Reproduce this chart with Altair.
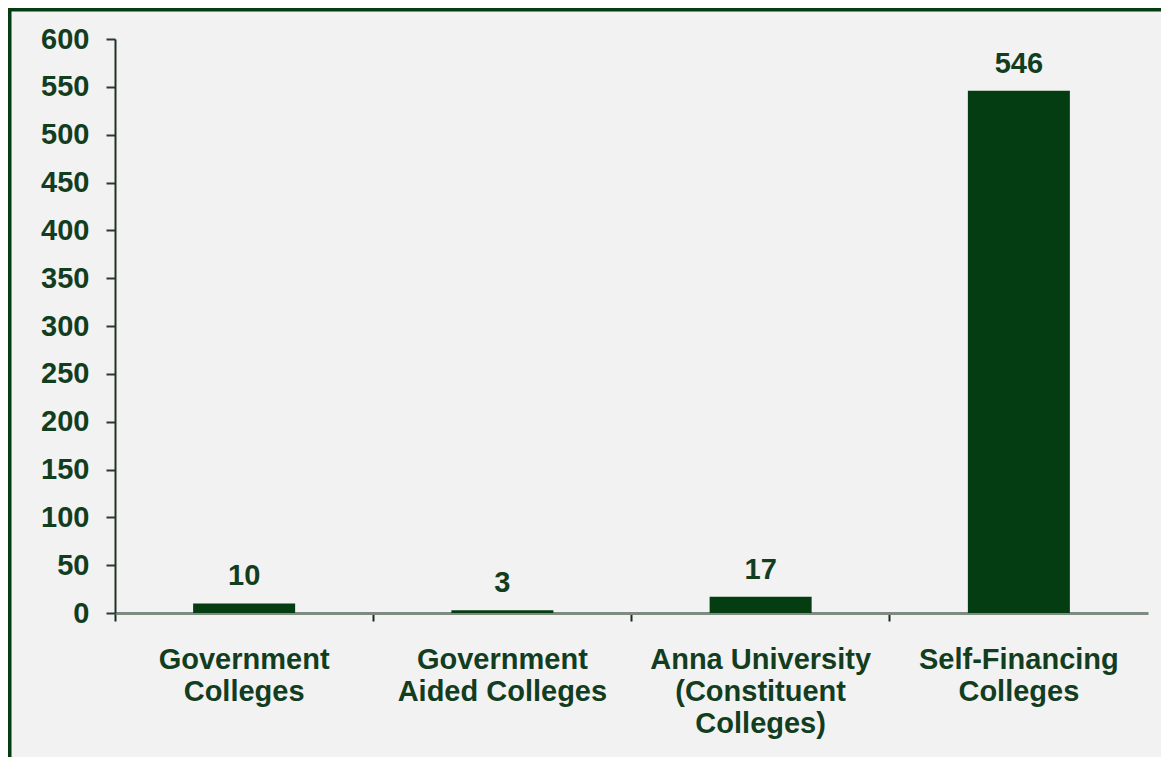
import altair as alt
import pandas as pd

categories = ["Government|Colleges", "Government|Aided Colleges",
              "Anna University|(Constituent|Colleges)", "Self-Financing|Colleges"]
values = [10, 3, 17, 546]

df = pd.DataFrame({"category": categories, "value": values})
frame_df = pd.DataFrame({"k": [0]})

GREEN = "#043d12"
TEXT = "#123d1f"
FONT = "Liberation Sans"
FS = 29
W, H = 1033, 574

x = alt.X("category:N", sort=categories, title=None,
          scale=alt.Scale(paddingInner=0, paddingOuter=0),
          axis=alt.Axis(labelAngle=0, labelExpr="split(datum.label, '|')",
                        labelLineHeight=32, labelFontSize=FS, labelFont=FONT,
                        labelFontWeight="bold", labelColor=TEXT, labelPadding=24,
                        labelLimit=0,
                        bandPosition=0, tickSize=8, tickColor="#1a2a1e", tickWidth=2,
                        domainColor="#7f8a80", domainWidth=3, grid=False))
y = alt.Y("value:Q", title=None,
          scale=alt.Scale(domain=[0, 600], nice=False),
          axis=alt.Axis(values=list(range(0, 601, 50)), labelFontSize=FS, labelFont=FONT,
                        labelFontWeight="bold", labelColor=TEXT, labelPadding=17,
                        tickSize=9, tickColor="#2a3a2e", tickWidth=2,
                        domainColor="#1f3323", domainWidth=2, grid=False))

bars = alt.Chart(df).mark_bar(color=GREEN, width=alt.RelativeBandSize(0.395)).encode(x=x, y=y)
labels = alt.Chart(df).mark_text(baseline="alphabetic", dy=-18, fontSize=FS, font=FONT,
                                 fontWeight="bold", color=TEXT).encode(
    x=alt.X("category:N", sort=categories), y="value:Q", text="value:Q")
frame = alt.Chart(frame_df).mark_rect(filled=False, stroke=GREEN, strokeWidth=4, clip=False).encode(
    x=alt.value(-105.5), x2=alt.value(W + 200), y=alt.value(-29.5), y2=alt.value(H + 300))

chart = alt.layer(bars, labels, frame).properties(
    width=W, height=H,
    autosize=alt.AutoSizeParams(type="none"),
    padding={"left": 107, "top": 31, "right": 13, "bottom": 144},
    background="#f2f2f2",
).configure_view(stroke=None)

chart.save("out.html", embed_options={"renderer": "svg", "actions": False})
